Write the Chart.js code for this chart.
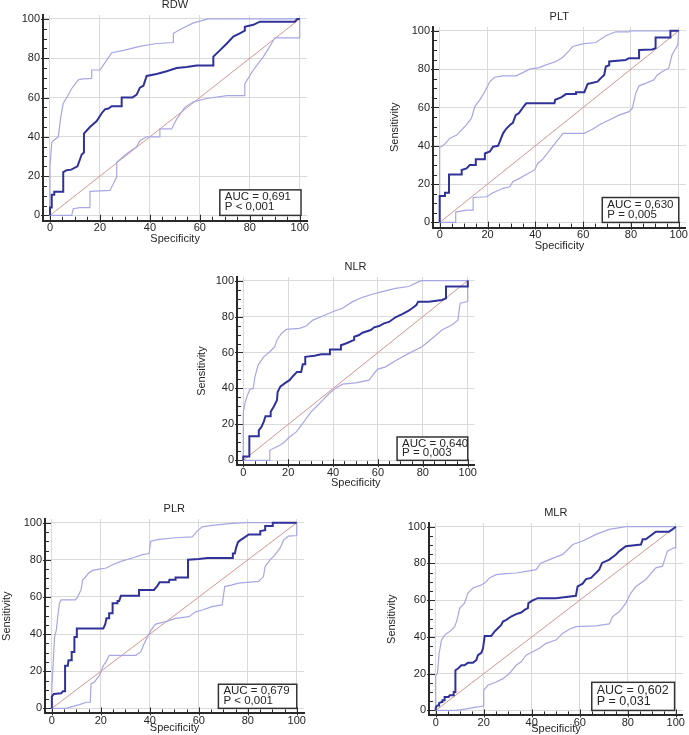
<!DOCTYPE html>
<html>
<head>
<meta charset="utf-8">
<script src="https://cdn.jsdelivr.net/npm/chart.js@4"></script>
<style>
  body { margin: 0; background: #fff; width: 689px; height: 735px; position: relative; overflow: hidden; }
  canvas { position: absolute; }
</style>
</head>
<body>
<script>
// axis ticks (both axes)
const TICKS = [0, 20, 40, 60, 80, 100];
const MINOR_TICKS = [0, 5, 10, 15, 20, 25, 30, 35, 40, 45, 50, 55, 60, 65, 70, 75, 80, 85, 90, 95, 100];

const TITLES = ['RDW', 'PLT', 'NLR', 'PLR', 'MLR'];
const AUC_TEXT = ['AUC = 0,691', 'AUC = 0,630', 'AUC = 0,640', 'AUC = 0,679', 'AUC = 0,602'];
const P_TEXT = ['P < 0,001', 'P = 0,005', 'P = 0,003', 'P < 0,001', 'P = 0,031'];

// each point is [specificity, sensitivity]
const DIAGONAL = [[0, 0], [100, 100]];

const RDW_ROC = [[0,0],[0,4],[0.7,4],[0.7,10.5],[1.7,10.5],[1.7,12],[5.3,12],[5.3,22],[6.7,23],[8.5,23.3],[11,25],[12.7,31],[13.6,32],[13.6,41.6],[16,45],[18.7,48],[20.7,52],[22,54],[23.4,54.4],[24.7,55.6],[28.7,55.6],[28.7,60],[33,60],[34.7,61.5],[36,65],[37.4,66],[38.7,71],[42.7,72],[46.7,73.4],[50.7,75],[54.7,75.5],[58.7,76.3],[65.4,76.3],[65.4,80.8],[68,84],[70.8,87.5],[73.4,91],[76,92.7],[78,94],[78,96],[81.4,97],[84,98.6],[98,98.6],[99,100],[100,100]];
const RDW_UPPER = [[0,0],[0,25],[0.7,37],[1.3,38],[3.3,40],[4.3,50],[5.3,57],[6.7,60],[8.7,64.6],[11.3,69],[13.3,69.5],[16.7,69.7],[16.7,74],[20,74],[22.7,79],[24.7,82.8],[29.4,84],[36,86],[42.7,87.5],[49.4,88],[49.4,92.7],[52.7,95],[57.4,98],[63.4,100],[100,100]];
const RDW_LOWER = [[0,0],[8.7,0],[9.3,3.4],[12,4],[16,4],[16,12.2],[24,12.7],[26.7,19.5],[26.7,27],[30.7,31.4],[34.7,35],[36,38],[38.7,40],[44,40],[44,44],[48.7,44],[50.7,49],[54,55],[57.4,57.8],[62.7,59.5],[70.8,61],[78,61],[78,67],[81.4,74],[85.4,80.7],[88,86],[90,90.4],[100,90.4],[100,100]];

const PLT_ROC = [[0,0],[0,13.8],[2.2,13.8],[2.2,15.5],[3.9,15.5],[3.9,25],[9.2,25],[9.2,27.4],[11.2,28.2],[12.6,30],[15.1,30],[15.1,33],[18.9,33],[18.9,36],[21,37],[22.3,39.5],[24.4,40],[25.1,42],[26.5,46.5],[27.9,49],[29.5,51],[30.6,52],[31.8,56],[33.1,57],[34.1,58.7],[35.1,60.5],[36.2,62.2],[48,62.2],[48.3,64],[50.8,65.3],[52.8,67],[57,67],[57,68],[60.5,68],[61.9,72.3],[66,73.5],[67.4,75.3],[68.8,77],[69.5,81.4],[70.9,82],[70.9,84],[77.8,84.8],[79.2,85.7],[83.4,85.7],[83.4,90],[88.9,90.3],[90.3,91],[90.3,96.5],[96.5,96.5],[96.5,100],[100,100]];
const PLT_UPPER = [[0,0],[0,39.5],[0.8,39.5],[2.2,41],[4.3,44],[7.1,45.6],[9.2,48.3],[11.2,51],[13.3,54.4],[14.7,60.5],[16.8,64],[18.9,68.3],[21,73.5],[23,75.8],[26.5,76.5],[32,76.5],[34.8,78.2],[37.6,80],[41.7,80.8],[44.5,82.2],[48.7,84],[51.5,86.2],[54.2,89.7],[55.6,91.8],[59.8,93.2],[65.3,93.9],[69.5,97.4],[73.6,99.5],[79.2,99.5],[80,100],[100,100]];
const PLT_LOWER = [[0,0],[6.7,0],[6.7,5.4],[11.2,6.4],[14,6.4],[14,13],[19.6,13.4],[22.3,15.5],[26.5,17.8],[29.3,18.6],[30.6,21.3],[33.4,23],[36.2,25],[39.7,27.4],[41,30.8],[43.1,33],[44.5,35.2],[46.6,38.7],[50,44],[51.5,46.5],[60.5,46.5],[63.9,48.6],[67.4,51.4],[70.9,53.5],[75,56],[79.2,57.8],[80.6,59.6],[82,67.4],[83.4,71.3],[86.1,72.6],[89.6,74.4],[91,77],[93,78.7],[95.8,80.5],[97.2,87.5],[99.6,92.7],[100,100]];

const NLR_ROC = [[0,0],[0,2.2],[2.7,2.2],[2.7,13.4],[6.9,13.4],[6.9,16.7],[8.1,18.6],[9.1,21.4],[9.9,24.5],[12.2,24.5],[12.2,27],[13.6,30],[15,33.5],[15.3,38],[16.5,41],[18.4,42.8],[20.6,44.6],[22.1,46.8],[23.9,49.2],[25.8,49.2],[26.5,53.5],[27.6,53.5],[27.6,57.6],[31.7,58.2],[34.7,59],[38.6,59],[38.6,61.7],[43.5,61.7],[43.5,64],[45.7,65],[49.4,67],[49.4,68.8],[51.6,69.7],[53.1,71],[56.8,72.5],[58.3,74],[60.5,74.7],[62.7,76.2],[64.9,77],[67.8,79.6],[70.8,81.4],[73.7,83.3],[75.2,84.6],[77.1,86.4],[77.9,88.3],[82.6,88.3],[88.5,89.2],[90.3,90.1],[90.3,96.7],[100,96.7],[100,100]];
const NLR_UPPER = [[0,0],[0,26.4],[0.7,31.6],[1.8,36],[2.9,39.4],[4.4,40],[5.2,46.5],[6.6,53],[8.1,55.8],[9.1,57.6],[11.8,60.4],[14,63.2],[15,67],[17,70.6],[19.2,72.9],[25,73.4],[28,74.7],[31,78],[35.4,80.3],[39.8,82.7],[44.2,84.6],[48.7,88.3],[53.1,90.7],[57.5,92.4],[61.9,93.9],[67.8,95.7],[73.7,96.7],[78.2,99.4],[79.6,100],[100,100]];
const NLR_LOWER = [[0,0],[11.8,0],[11.8,5.6],[16.2,8.4],[18.4,10.2],[20.6,13],[23.6,15.8],[25.8,19.5],[28,23.2],[30.2,27],[32.4,29.7],[35.4,33.5],[38.3,37.2],[41.3,40.3],[44.2,42.4],[50.1,43.1],[56,44.6],[59.7,50.6],[63.4,52],[67.8,55.4],[73.7,59.5],[79.6,63.2],[84.1,67.8],[88.5,72.5],[92.9,75.3],[95.6,78],[96.6,87.4],[100,88.3],[100,100]];

const PLR_ROC = [[0,0],[0,6.3],[0.8,7.8],[3.8,8.1],[4.5,9.2],[5.4,9.2],[5.4,23],[6.5,23],[6.8,25.9],[8.1,25.9],[8.1,30.4],[9.2,30.4],[9.2,38.5],[10.2,38.5],[10.2,43],[21,43],[21.8,45.4],[22.3,48.5],[23.4,48.5],[23.4,51.2],[24.8,51.2],[24.8,56.6],[26.8,56.6],[26.8,57.9],[27.5,57.9],[28.2,60.6],[35.6,60.6],[35.6,63.8],[41.7,63.8],[43.1,66],[44,68],[47.8,68],[48,69.3],[50.5,69.3],[50.5,70.5],[55.6,70.5],[55.6,80.1],[60,80.5],[63.4,81],[73.6,81],[73.9,83.4],[74.7,83.4],[75.2,86.4],[76,89.5],[77,90.6],[79,92.4],[80.4,93.7],[85.1,93.7],[85.1,95.5],[87.1,96],[87.1,98.2],[90.2,98.2],[90.2,100],[100,100]];
const PLR_UPPER = [[0,0],[0,11.4],[0.4,20.4],[1.1,38.5],[1.8,42],[2.4,49.4],[3.1,56.6],[3.8,58.4],[9.6,58.4],[10.6,60.2],[11.9,63.8],[12.6,69.3],[13.6,70.5],[15,72.9],[16.7,74.3],[19.4,75],[22.2,75.6],[24.8,77.4],[28.2,79.2],[32.9,81],[37,82.8],[39.7,83.4],[40.4,90],[43.8,91],[50.5,91.9],[57.3,92.4],[59.3,95.5],[61.4,97.8],[65.4,98.6],[73.6,99.6],[79,100],[100,100]];
const PLR_LOWER = [[0,0],[5.8,0],[11.2,2],[14.2,3.3],[15.7,3.3],[16,13.2],[17.3,14.1],[19.4,17.7],[21,23],[22.1,25],[23.4,28.6],[34.3,28.6],[36.3,30.4],[37.7,34.9],[39,38.5],[40.4,42],[42.4,45.4],[46.5,46.7],[50.5,48.5],[56,49.4],[58.7,52],[61.4,53],[65.4,54.8],[69.5,55.7],[70.6,65.6],[73.6,66.5],[76.3,67.5],[84.4,68.4],[86.4,71],[87.1,76.5],[89.2,80.1],[91.2,82.8],[93.2,86.4],[94.6,90.6],[96.6,92.8],[100,93.1],[100,100]];

const MLR_ROC = [[0,0],[0,1.5],[0.7,2.7],[1.4,2.7],[1.4,4],[2.4,4.6],[2.8,4.6],[2.8,5.5],[3.7,5.5],[3.7,7.3],[5.4,7.3],[5.8,8.2],[7.5,8.2],[7.5,10],[8.2,10],[8.2,21.9],[9.3,22.8],[10.7,24.6],[12,24.6],[13.4,25.9],[15.5,25.9],[16.9,27.4],[17.6,30.1],[19,31.4],[19.7,33.8],[20.4,40.5],[23.1,40.5],[24.5,42.9],[25.9,44.7],[27.3,46.5],[28,48.4],[29.4,49.3],[31.4,51.1],[33.5,52.4],[35.6,53.3],[37,54.7],[38.4,55.7],[38.6,58.4],[40.4,59.9],[42.5,61.1],[50.1,61.1],[58.4,62.4],[59.1,67.5],[61.2,69],[62.6,71.5],[64.7,72.1],[68.1,76.6],[69.3,80.3],[72.3,82.1],[75.1,84.9],[76.5,86.7],[79.2,89.4],[85.5,90.3],[86.2,93.1],[87.5,93.1],[91.7,97.3],[97.2,97.3],[98.6,98.5],[100,100]];
const MLR_UPPER = [[0,0],[0,19.2],[0.7,20],[1.4,31],[2.4,38.3],[3.7,41],[5.8,42.9],[7.9,45.6],[8.9,49.3],[10,55.7],[12,58.4],[13.4,63.9],[15.5,66.6],[18.3,67.9],[20.4,69.3],[22.4,72.1],[25.2,73.9],[29.4,74.5],[33.5,74.8],[37.7,75.7],[41.8,76.6],[43.9,80.3],[47.4,82.1],[52.9,84.9],[57.1,90.3],[61.2,92.2],[66.8,95.8],[72.3,98.5],[79.2,100],[100,100]];
const MLR_LOWER = [[0,0],[8.6,0],[12.7,0.9],[16.9,1.8],[19.7,2.4],[20,11],[21.7,13.7],[25.2,15.5],[28,17.3],[30.7,20.1],[33.5,24.6],[35.6,26.5],[37.7,30.1],[40.4,31.9],[43.2,33.8],[46,36.5],[50.1,38.3],[52.9,42],[55.7,44.2],[58.4,45.6],[66.8,46],[72.3,47.1],[73.7,51.1],[76.5,53.8],[79.2,58.4],[81.3,63.9],[83.4,67.5],[87.5,71.2],[91.7,77.6],[94.5,78.5],[96.5,86.7],[99.2,88.5],[100,88.5],[100,100]];

// scale ranges and look
const XMIN = -2.8, XMAX = 103, YMIN = -2.7, YMAX = 102;
const TOP_PAD = 20, RIGHT_PAD = 2;
const FONT = '"Liberation Sans", Arial, sans-serif';
const TEXT_COLOR = '#262626';
const AXIS_COLOR = '#2a2a2a';
const ROC_COLOR = '#30329a';
const CI_COLOR = '#a6a7e4';
const DIAG_COLOR = '#d8958f';

// where each panel sits on the page (pixel position of value 0 and 100)
const PANELS = [
  { name: 0, roc: RDW_ROC, upper: RDW_UPPER, lower: RDW_LOWER, x0: 50, x100: 300, y0: 215, y100: 19, axisW: 40, yTitle: false, xTitleGap: 18.7, box: [68, 100.5, 0, 13], boxFont: 11.5 },
  { name: 1, roc: PLT_ROC, upper: PLT_UPPER, lower: PLT_LOWER, x0: 440, x100: 680, y0: 222, y100: 31, axisW: 45, yTitle: true, xTitleGap: 18.8, box: [68, 100, 0, 13], boxFont: 11.5 },
  { name: 2, roc: NLR_ROC, upper: NLR_UPPER, lower: NLR_LOWER, x0: 243, x100: 469, y0: 460, y100: 281, axisW: 42, yTitle: true, xTitleGap: 18.2, box: [68.5, 100, 0, 13], boxFont: 11.5 },
  { name: 3, roc: PLR_ROC, upper: PLR_UPPER, lower: PLR_LOWER, x0: 52, x100: 298, y0: 708, y100: 523, axisW: 45, yTitle: true, xTitleGap: 15, box: [68, 100, 0, 13], boxFont: 11.5 },
  { name: 4, roc: MLR_ROC, upper: MLR_UPPER, lower: MLR_LOWER, x0: 436, x100: 677, y0: 710, y100: 527, axisW: 44, yTitle: true, xTitleGap: 14, box: [65, 99.5, 0, 15.3], boxFont: 12.5 },
];

const toXY = pts => pts.map(p => ({ x: p[0], y: p[1] }));

// inward tick marks on both axes
const innerTicks = {
  id: 'innerTicks',
  beforeDatasetsDraw(chart) {
    const { ctx, chartArea, scales: { x, y } } = chart;
    ctx.save();
    ctx.strokeStyle = AXIS_COLOR;
    ctx.lineWidth = 1;
    ctx.beginPath();
    MINOR_TICKS.forEach(v => {
      const major = TICKS.includes(v);
      const px = Math.round(x.getPixelForValue(v)) + 0.5;
      ctx.moveTo(px, chartArea.bottom + (major ? 2 : 0));
      ctx.lineTo(px, chartArea.bottom - (major ? 6 : 4));
      const py = Math.round(y.getPixelForValue(v)) + 0.5;
      ctx.moveTo(chartArea.left - (major ? 2 : 0), py);
      ctx.lineTo(chartArea.left + (major ? 6 : 4), py);
    });
    ctx.stroke();
    ctx.restore();
  }
};

// panel title + AUC box
const rocText = {
  id: 'rocText',
  afterDatasetsDraw(chart, args, opts) {
    const { ctx, chartArea, scales: { x, y } } = chart;
    ctx.save();
    ctx.font = '11px ' + FONT;
    ctx.fillStyle = TEXT_COLOR;
    ctx.textAlign = 'center';
    ctx.textBaseline = 'middle';
    ctx.fillText(opts.title, x.getPixelForValue(50), chartArea.top - 10);

    const l = x.getPixelForValue(opts.box[0]), r = x.getPixelForValue(opts.box[1]);
    const b = y.getPixelForValue(opts.box[2]), t = y.getPixelForValue(opts.box[3]);
    ctx.fillStyle = '#fff';
    ctx.fillRect(l, t, r - l, b - t);
    ctx.strokeStyle = '#333';
    ctx.lineWidth = 1.5;
    ctx.strokeRect(l, t, r - l, b - t);
    ctx.fillStyle = TEXT_COLOR;
    ctx.font = opts.boxFont + 'px ' + FONT;
    ctx.textAlign = 'left';
    const h = b - t;
    ctx.fillText(opts.auc, l + 5, t + h * 0.28);
    ctx.fillText(opts.p, l + 5, t + h * 0.68);
    ctx.restore();
  }
};

function axis(title, sizeKey, size) {
  const isY = sizeKey === 'width';
  return {
    type: 'linear',
    min: isY ? YMIN : XMIN,
    max: isY ? YMAX : XMAX,
    afterBuildTicks: s => { s.ticks = MINOR_TICKS.map(v => ({ value: v })); },
    afterFit: s => { s[sizeKey] = size; },
    border: { display: true, color: AXIS_COLOR, width: 2 },
    grid: {
      color: c => (c.tick && TICKS.includes(c.tick.value)) ? '#dadada' : 'rgba(0,0,0,0)',
      drawTicks: false,
      lineWidth: 1
    },
    ticks: {
      autoSkip: false,
      maxRotation: 0,
      padding: isY ? 3 : 1,
      color: TEXT_COLOR,
      font: { size: 11, family: FONT },
      callback: v => TICKS.includes(v) ? String(v) : ''
    },
    title: {
      display: !!title,
      text: title || '',
      color: TEXT_COLOR,
      padding: 0,
      font: { size: 11, family: FONT }
    }
  };
}

PANELS.forEach(p => {
  const sx = (p.x100 - p.x0) / 100, sy = (p.y0 - p.y100) / 100;
  const areaL = p.x0 + XMIN * sx, areaR = p.x0 + XMAX * sx;
  const areaT = p.y0 - YMAX * sy, areaB = p.y0 - YMIN * sy;
  const xAxisH = p.xTitleGap + 6.6;
  const left = Math.round(areaL - p.axisW);
  const top = Math.round(areaT - TOP_PAD);
  const width = Math.round(areaR + RIGHT_PAD - left);
  const height = Math.round(areaB + xAxisH - top);

  const canvas = document.createElement('canvas');
  canvas.style.left = left + 'px';
  canvas.style.top = top + 'px';
  canvas.width = width;
  canvas.height = height;
  canvas.style.width = width + 'px';
  canvas.style.height = height + 'px';
  document.body.appendChild(canvas);

  new Chart(canvas, {
    type: 'line',
    data: {
      datasets: [
        { data: toXY(p.roc), borderColor: ROC_COLOR, borderWidth: 2 },
        { data: toXY(p.upper), borderColor: CI_COLOR, borderWidth: 1.2 },
        { data: toXY(p.lower), borderColor: CI_COLOR, borderWidth: 1.2 },
        { data: toXY(DIAGONAL), borderColor: DIAG_COLOR, borderWidth: 1 }
      ]
    },
    options: {
      responsive: false,
      animation: false,
      devicePixelRatio: 1,
      elements: { point: { radius: 0 }, line: { tension: 0, borderJoinStyle: 'miter' } },
      layout: { padding: { top: TOP_PAD, right: RIGHT_PAD, left: 0, bottom: 0 } },
      scales: {
        x: axis('Specificity', 'height', xAxisH),
        y: axis(p.yTitle ? 'Sensitivity' : '', 'width', p.axisW)
      },
      plugins: {
        legend: { display: false },
        tooltip: { enabled: false },
        rocText: { title: TITLES[p.name], auc: AUC_TEXT[p.name], p: P_TEXT[p.name], box: p.box, boxFont: p.boxFont }
      }
    },
    plugins: [innerTicks, rocText]
  });
});
</script>
</body>
</html>
